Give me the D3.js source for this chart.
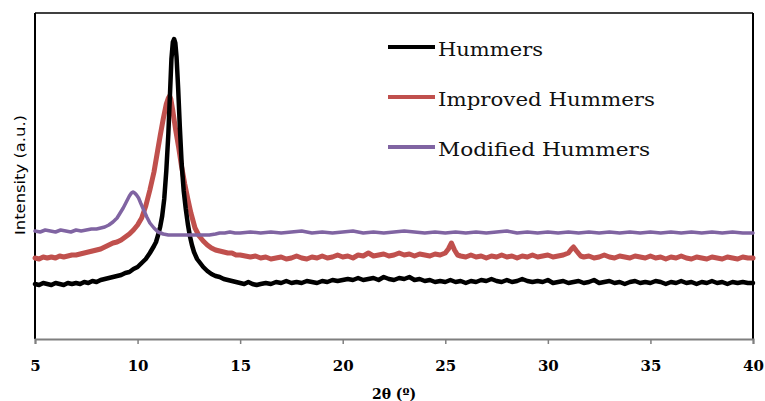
<!DOCTYPE html>
<html><head><meta charset="utf-8">
<script src="https://cdn.jsdelivr.net/npm/d3@7"></script>
<style>html,body{margin:0;padding:0;background:#fff;}svg{display:block;}</style>
</head><body>
<svg id="chart" width="765" height="401"></svg>
<script>
// ---- data (2θ in degrees, intensity in arbitrary units) ----
const seriesNames = ["Hummers", "Improved Hummers", "Modified Hummers"];
const seriesColors = ["#000000", "#C0504D", "#8064A2"];
const xTicks = [5, 10, 15, 20, 25, 30, 35, 40];

const hummers = [
[5.0,55],[5.2,54],[5.4,56],[5.6,55],[5.8,54],[6.0,56],[6.2,55],[6.4,54],[6.6,56],[6.8,55],[7.0,56],[7.2,55],[7.4,57],[7.6,56],[7.8,58],[8.0,57],[8.2,59],[8.4,60],[8.6,61],[8.8,62],[9.0,63],[9.2,64],[9.4,66],[9.6,67],[9.8,70],[10.0,72],[10.2,76],[10.4,80],[10.6,86],[10.8,93],[10.9,97],[11.0,104],[11.1,112],[11.2,123],[11.3,140],[11.4,168],[11.5,205],[11.58,245],[11.65,280],[11.72,297],[11.78,300],[11.84,296],[11.9,282],[11.98,250],[12.06,212],[12.15,175],[12.25,148],[12.35,130],[12.45,115],[12.55,103],[12.65,94],[12.75,87],[12.9,80],[13.05,76],[13.2,72],[13.4,68],[13.6,65],[13.8,63],[14.0,62],[14.2,60],[14.4,59],[14.6,58],[14.8,57],[15.0,56],[15.2,55],[15.4,57],[15.6,55],[15.8,54],[16.0,55],
[16.25,56],[16.5,55],[16.75,57],[17.0,56],[17.25,58],[17.5,56],[17.75,57],[18.0,56],[18.25,58],[18.5,57],[18.75,56],[19.0,58],[19.25,57],[19.5,59],[19.75,58],[20.0,59],[20.25,60],[20.5,59],[20.75,61],[21.0,59],[21.25,60],[21.5,61],[21.75,59],[22.0,62],[22.25,60],[22.5,59],[22.75,61],[23.0,60],[23.25,62],[23.5,59],[23.75,60],[24.0,58],[24.25,59],[24.5,57],[24.75,58],[25.0,57],[25.25,59],[25.5,57],[25.75,58],[26.0,56],[26.25,58],[26.5,57],[26.75,59],[27.0,58],[27.25,60],[27.5,58],[27.75,57],[28.0,59],[28.25,57],[28.5,58],[28.75,60],[29.0,58],[29.25,57],[29.5,58],[29.75,57],[30.0,59],[30.25,56],[30.5,57],[30.75,58],[31.0,56],[31.25,57],[31.5,58],[31.75,56],[32.0,57],[32.25,59],[32.5,56],[32.75,57],[33.0,58],[33.25,56],[33.5,57],[33.75,55],[34.0,57],[34.25,58],[34.5,56],[34.75,57],[35.0,56],[35.25,58],[35.5,57],[35.75,55],[36.0,57],[36.25,56],[36.5,58],[36.75,56],[37.0,57],[37.25,55],[37.5,57],[37.75,56],[38.0,58],[38.25,56],[38.5,57],[38.75,55],[39.0,57],[39.25,56],[39.5,57],[39.75,56],[40.0,56]
];

const improvedHummers = [
[5.0,81],[5.2,80],[5.4,82],[5.6,81],[5.8,82],[6.0,81],[6.2,83],[6.4,82],[6.6,83],[6.8,84],[7.0,84],[7.2,85],[7.4,86],[7.6,87],[7.8,88],[8.0,89],[8.2,90],[8.4,92],[8.6,94],[8.8,96],[9.0,97],[9.2,99],[9.4,102],[9.6,105],[9.8,109],[10.0,114],[10.2,121],[10.4,133],[10.6,149],[10.8,167],[10.95,185],[11.1,203],[11.25,220],[11.4,235],[11.5,241],[11.56,243],[11.62,240],[11.72,228],[11.85,210],[12.0,192],[12.15,172],[12.3,155],[12.45,140],[12.6,126],[12.8,111],[13.0,103],[13.2,98],[13.4,94],[13.6,91],[13.8,89],[14.0,88],[14.2,87],[14.4,86],[14.6,86],[14.8,84],[15.0,84],[15.25,83],[15.5,82],[15.75,83],[16.0,81],
[16.25,82],[16.5,80],[16.75,81],[17.0,82],[17.25,80],[17.5,81],[17.75,83],[18.0,81],[18.25,80],[18.5,82],[18.75,81],[19.0,83],[19.25,81],[19.5,82],[19.75,84],[20.0,82],[20.25,83],[20.5,81],[20.75,84],[21.0,83],[21.25,86],[21.5,83],[21.75,84],[22.0,85],[22.25,83],[22.5,84],[22.75,86],[23.0,84],[23.25,85],[23.5,83],[23.75,85],[24.0,84],[24.25,83],[24.5,85],[24.75,84],[25.0,86],[25.15,90],[25.3,96],[25.45,89],[25.6,84],[25.75,83],[26.0,82],[26.25,84],[26.5,82],[26.75,83],[27.0,81],[27.25,83],[27.5,82],[27.75,84],[28.0,82],[28.25,83],[28.5,81],[28.75,83],[29.0,82],[29.25,84],[29.5,82],[29.75,83],[30.0,84],[30.25,82],[30.5,83],[30.75,84],[31.0,86],[31.15,90],[31.25,92],[31.4,88],[31.6,83],[31.75,82],[32.0,83],[32.25,81],[32.5,82],[32.75,84],[33.0,82],[33.25,81],[33.5,83],[33.75,82],[34.0,81],[34.25,83],[34.5,82],[34.75,81],[35.0,83],[35.25,81],[35.5,82],[35.75,80],[36.0,82],[36.25,81],[36.5,83],[36.75,81],[37.0,80],[37.25,82],[37.5,81],[37.75,80],[38.0,82],[38.25,81],[38.5,80],[38.75,82],[39.0,81],[39.25,80],[39.5,82],[39.75,81],[40.0,81]
];

const modifiedHummers = [
[5.0,108],[5.25,107],[5.5,109],[5.75,108],[6.0,107],[6.25,109],[6.5,108],[6.75,107],[7.0,109],[7.25,108],[7.5,109],[7.75,110],[8.0,110],[8.2,111],[8.4,112],[8.6,114],[8.8,117],[9.0,121],[9.15,126],[9.3,131],[9.45,137],[9.6,143],[9.7,146],[9.78,147],[9.86,146],[9.95,144],[10.05,141],[10.15,136],[10.3,129],[10.45,122],[10.6,116],[10.8,111],[11.0,107],[11.25,105],[11.5,104],[11.75,104],[12.0,104],[12.5,104],[13.0,104],[13.5,104],[13.8,105],[14.0,106],[14.25,106],[14.5,107],[14.75,106],
[15.0,106],[15.5,107],[16.0,106],[16.5,107],[17.0,106],[17.5,107],[18.0,108],[18.5,106],[19.0,107],[19.5,106],[20.0,107],[20.5,108],[21.0,106],[21.5,107],[22.0,106],[22.5,107],[23.0,108],[23.5,107],[24.0,106],[24.5,107],[25.0,106],[25.5,107],[26.0,106],[26.5,107],[27.0,106],[27.5,107],[28.0,108],[28.5,106],[29.0,107],[29.5,106],[30.0,107],[30.5,106],[31.0,107],[31.5,106],[32.0,107],[32.5,106],[33.0,107],[33.5,106],[34.0,107],[34.5,106],[35.0,107],[35.5,106],[36.0,107],[36.5,106],[37.0,107],[37.5,106],[38.0,107],[38.5,106],[39.0,107],[39.5,106],[40.0,106]
];

// ---- layout ----
const svg = d3.select("#chart");
const plot = {left: 35, right: 753, top: 13, bottom: 339};

const x = d3.scaleLinear().domain([5, 40]).range([plot.left, plot.right]);
const y = d3.scaleLinear().domain([0, 326]).range([plot.bottom, plot.top]);

// frame (top, left, right in black)
svg.append("line").attr("x1", plot.left).attr("x2", plot.right).attr("y1", plot.top).attr("y2", plot.top)
  .attr("stroke", "#000").attr("stroke-width", 1.5);
svg.append("line").attr("x1", plot.left).attr("x2", plot.left).attr("y1", plot.top).attr("y2", plot.bottom)
  .attr("stroke", "#000").attr("stroke-width", 2);
svg.append("line").attr("x1", plot.right).attr("x2", plot.right).attr("y1", plot.top).attr("y2", plot.bottom)
  .attr("stroke", "#000").attr("stroke-width", 2);

// series
const line = d3.line().x(d => x(d[0])).y(d => y(d[1]));
const seriesData = [hummers, improvedHummers, modifiedHummers];
const widths = [4.5, 5, 3.5];
const drawOrder = [1, 0, 2];
drawOrder.forEach(i => {
  svg.append("path").datum(seriesData[i])
    .attr("d", line).attr("fill", "none")
    .attr("stroke", seriesColors[i]).attr("stroke-width", widths[i])
    .attr("stroke-linejoin", "round").attr("stroke-linecap", "round");
});

// x axis
const xAxis = d3.axisBottom(x).tickValues(xTicks).tickSize(5).tickFormat(d3.format("d"));
const gx = svg.append("g").attr("transform", `translate(0,${plot.bottom})`).call(xAxis);
gx.select(".domain").attr("stroke", "#7f7f7f").attr("stroke-width", 2);
gx.selectAll(".tick line").attr("stroke", "#7f7f7f").attr("stroke-width", 1.5);
gx.selectAll(".tick text")
  .attr("y", 32).attr("dy", 0)
  .attr("font-family", "'DejaVu Serif', serif").attr("font-weight", "bold")
  .attr("font-size", 15).attr("fill", "#000");

// axis titles
svg.append("text").attr("x", 394).attr("y", 399).attr("text-anchor", "middle")
  .attr("font-family", "'DejaVu Serif', serif").attr("font-weight", "bold").attr("font-size", 14)
  .attr("fill", "#000").text("2θ (º)");

svg.append("text").attr("transform", "translate(25,175) rotate(-90)")
  .attr("text-anchor", "middle")
  .attr("font-family", "'DejaVu Sans', sans-serif").attr("font-size", 14)
  .attr("fill", "#000").attr("textLength", 120).attr("lengthAdjust", "spacingAndGlyphs")
  .text("Intensity (a.u.)");

// legend
const legendWidths = [105, 217, 212];
seriesNames.forEach((name, i) => {
  const ly = 47 + i * 50;
  svg.append("line").attr("x1", 388).attr("x2", 435).attr("y1", ly).attr("y2", ly)
    .attr("stroke", seriesColors[i]).attr("stroke-width", 4);
  svg.append("text").attr("x", 438).attr("y", ly + 9)
    .attr("font-family", "'DejaVu Serif', serif").attr("font-size", 19).attr("fill", "#111")
    .attr("textLength", legendWidths[i]).attr("lengthAdjust", "spacingAndGlyphs")
    .text(name);
});
</script>
</body></html>
